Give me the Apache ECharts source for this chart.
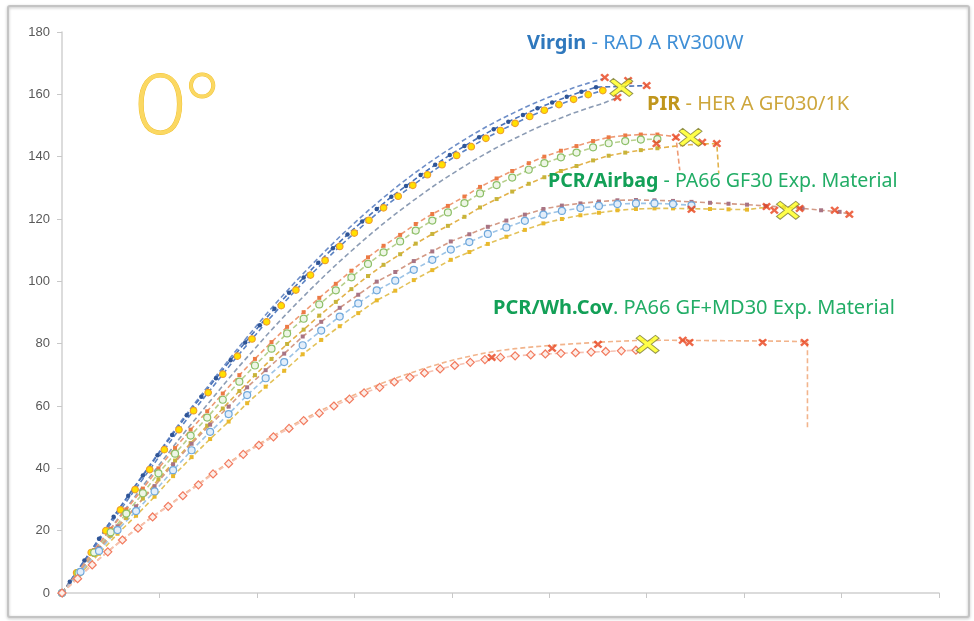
<!DOCTYPE html>
<html>
<head>
<meta charset="utf-8">
<title>0°</title>
<script src="https://cdn.jsdelivr.net/npm/echarts@6/dist/echarts.min.js"></script>
<style>
    html, body { margin: 0; padding: 0; background: #fff; }
    #chart { width: 974px; height: 621px; }
</style>
</head>
<body>
<div id="chart"></div>
<script>
// Virgin - RAD A RV300W
var xVirgin = [0,0.15,0.3,0.45,0.6,0.75,0.9,1.05,1.2,1.35,1.5,1.65,1.8,1.95,2.1,2.25,2.4,2.55,2.7,2.85,3,3.15,3.3,3.45,3.6,3.75,3.9,4.05,4.2,4.35,4.5,4.65,4.8,4.95,5.1,5.25,5.4,5.55];
var xVirginB = [0,0.08,0.23,0.38,0.53,0.68,0.83,0.98,1.13,1.28,1.43,1.58,1.73,1.88,2.03,2.18,2.33,2.48,2.63,2.78,2.93,3.08,3.23,3.38,3.53,3.68,3.83,3.98,4.13,4.28,4.43,4.58,4.73,4.88,5.03,5.18,5.33,5.48];
var virginTop = [0,6.8,13.6,20.8,27.7,34.4,41,47.6,54.2,60.4,66.4,72.4,78.3,84,89.6,94.9,100,104.9,109.7,114.3,118.7,122.9,126.9,130.7,134.3,137.7,140.9,143.9,146.8,149.5,152,154.3,156.5,158.5,160.4,162.1,163.6,165];
var virginDots = [0,3.6,10.4,17.4,24.5,31.2,37.7,44.2,50.7,57,63,68.9,74.7,80.4,85.9,91.2,96.3,101.2,106,110.6,115,119.2,123.2,127.1,130.6,134.1,137.4,140.5,143.4,146.2,148.8,151.2,153.4,155.5,157.4,159.2,160.8,162.3];
var virginYellow = [0,6.5,13,20,26.7,33.2,39.6,46,52.4,58.5,64.3,70.2,76,81.5,87,92.2,97.2,102,106.7,111.2,115.5,119.6,123.6,127.3,130.8,134.2,137.4,140.4,143.2,145.9,148.4,150.7,152.9,154.9,156.7,158.4,159.9,161.2];
var virginLow = [0,6,12,18.6,24.9,31,37.2,43.2,49.3,55.1,60.8,66.5,72.1,77.4,82.7,87.8,92.7,97.4,102,106.4,110.6,114.7,118.6,122.3,125.8,129.2,132.4,135.4,138.3,141,143.6,145.9,148.2,150.3,152.2,154,155.6,157.1];
var virginDotsTail = [[6.0,162.8]];
var virginLowTail = [[5.7,159]];

// PIR - HER A GF030/1K
var xPir = [0,0.17,0.33,0.5,0.66,0.83,0.99,1.16,1.32,1.49,1.65,1.82,1.98,2.15,2.31,2.48,2.64,2.81,2.97,3.14,3.3,3.47,3.63,3.8,3.96,4.13,4.29,4.46,4.62,4.79,4.95,5.12,5.28,5.45,5.61,5.78,5.94,6.11];
var pirGreen = [0,6.5,13,19.5,25.5,32,38.4,44.7,50.5,56.3,62,67.8,73,78.4,83.3,88,92.6,97.1,101.3,105.6,109.3,112.8,116.3,119.5,122.1,125.1,128.2,130.9,133.3,135.8,137.9,139.8,141.3,143,144.3,145,145.5,145.6];
var pirOrange = [0,6.9,13.8,20.6,26.8,33.5,40,46.5,52.4,58.3,64,69.9,75.1,80.5,85.4,90.1,94.7,99.2,103.4,107.7,111.4,114.9,118.4,121.6,124.2,127.2,130.3,133,135.4,137.9,140,141.9,143.4,145,146.2,146.8,147.1,147.1];
var pirBrown = [0,6.1,12.2,18.4,24.1,30.3,36.5,42.5,48.1,53.7,59.2,64.8,69.9,75.1,79.9,84.5,89,93.4,97.5,101.7,105.3,108.7,112.1,115.2,117.8,120.7,123.7,126.4,128.8,131.3,133.4,135.4,137,138.8,140.3,141.3,142.1,142.7];
var pirOrangeTail = [[6.3,146.4],[6.34,135.6]];
var pirBrownTail = [[6.27,143.3],[6.44,143.8],[6.6,144.1],[6.72,144.2],[6.74,134.6]];

// PCR/Airbag - PA66 GF30 Exp. Material
var xAirbag = [0,0.19,0.38,0.57,0.76,0.95,1.14,1.33,1.52,1.71,1.9,2.09,2.28,2.47,2.66,2.85,3.04,3.23,3.42,3.61,3.8,3.99,4.18,4.37,4.56,4.75,4.94,5.13,5.32,5.51,5.7,5.89,6.08,6.27,6.46,6.65,6.84,7.03,7.22,7.41,7.6,7.79,7.98];
var airbagBlue = [0,6.8,13.5,20.2,26.3,32.6,39.4,45.8,51.7,57.4,63.5,68.9,74.1,79.5,84.2,88.7,92.9,97.1,100.2,103.7,106.9,110.2,112.6,115.2,117.3,119.4,121.4,122.6,123.5,124.2,124.8,125,125,124.8,124.4];
var airbagRed = [0,7.3,14.4,21.4,27.8,34.3,41.3,47.9,54,59.8,66,71.5,76.8,82.3,87,91.5,95.7,99.9,103,106.5,109.6,112.8,115.1,117.5,119.5,121.4,123.2,124.3,125,125.6,126,126.1,126,125.8,125.5,125.2,124.9,124.6,124.2,123.8,123.4,122.8,122.3];
var airbagYellow = [0,6.3,12.6,19,24.8,30.9,37.5,43.6,49.4,55,60.9,66.2,71.3,76.6,81.2,85.6,89.8,93.9,97,100.4,103.6,106.9,109.4,112,114.3,116.5,118.6,120,121.2,122,122.8,123.2,123.4,123.4,123.3,123.2,123.1,123];
var airbagRedTail = [[8.08,121.5]];
var airbagYellowTail = [[7.23,123.8]];

// PCR/Wh.Cov. PA66 GF+MD30 Exp. Material
var xWhcov = [0,0.16,0.31,0.47,0.62,0.78,0.93,1.09,1.24,1.4,1.55,1.71,1.86,2.02,2.17,2.33,2.48,2.64,2.79,2.95,3.1,3.26,3.41,3.57,3.72,3.88,4.03,4.19,4.34,4.5,4.65,4.81,4.96,5.12,5.27,5.43,5.58,5.74,5.89];
var whcovDiamond = [0,4.6,9,13.2,17,20.8,24.4,27.8,31.2,34.7,38.2,41.5,44.5,47.4,50.1,52.8,55.3,57.7,60,62.2,64.2,66,67.7,69.2,70.6,71.9,73,74,74.9,75.6,76.1,76.4,76.7,76.9,77.1,77.3,77.5,77.7,77.9];
var whcovTan = [0,4.7,9.1,13.3,17.2,21,24.6,28,31.5,35,38.5,41.8,44.8,47.8,50.5,53.3,55.8,58.3,60.6,62.9,65,67,68.8,70.5,72.1,73.6,74.9,76,77,77.8,78.4,78.9,79.3,79.7,80,80.3,80.6,80.8,81];
var whcovTanTail = [[6.2,81.1],[6.6,81],[7.0,80.9],[7.4,80.8],[7.65,80.6],[7.65,52.9]];

// 断裂点 (red x) and mean (big yellow X)
var failX = [5.57,5.81,5.70,6.0, 6.10,6.30,6.57,6.72, 6.46,7.23,7.31,7.57,7.93,8.08, 4.41,5.03,5.50,6.37,6.44,7.19,7.62];
var failY = [165.4,164.4,159,162.8, 144.2,146.2,144.6,144.2, 123.1,124,122.8,123.4,122.8,121.5, 75.6,78.5,79.8,81.1,80.4,80.4,80.4];
var meanX = [5.74,6.45,7.45,6.01];
var meanY = [162.2,146.2,122.8,79.8];

var yTicks = [0,20,40,60,80,100,120,140,160,180];

var crossPath = 'path://M2,0 L5,3 L8,0 L10,2 L7,5 L10,8 L8,10 L5,7 L2,10 L0,8 L3,5 L0,2 Z';
var bigCrossPath = 'path://M1.6,0 L5,3.4 L8.4,0 L10,1.6 L6.6,5 L10,8.4 L8.4,10 L5,6.6 L1.6,10 L0,8.4 L3.4,5 L0,1.6 Z';

function pairs(xs, ys, tail) {
    var d = [];
    for (var i = 0; i < ys.length; i++) {
        d.push([xs[i], ys[i]]);
    }
    if (tail) {
        for (var j = 0; j < tail.length; j++) {
            d.push({value: tail[j], symbol: 'none'});
        }
    }
    return d;
}

function curve(name, data, lineColor, symbol, size, fill, border) {
    return {
        name: name,
        type: 'line',
        data: data,
        z: 2,
        silent: true,
        showSymbol: symbol !== 'none',
        symbol: symbol,
        symbolSize: size,
        lineStyle: {color: lineColor, width: 1.6, type: [5, 3]},
        itemStyle: {color: fill, borderColor: border, borderWidth: border ? 1.2 : 0},
        emphasis: {disabled: true}
    };
}

var chart = echarts.init(document.getElementById('chart'));

var series = [
    curve('virginTop', pairs(xVirgin, virginTop), '#6f8fc8', 'none'),
    curve('virginLow', pairs(xVirgin, virginLow, virginLowTail), '#8c9cb4', 'none'),
    curve('virginDots', pairs(xVirginB, virginDots, virginDotsTail), '#4a72b8', 'circle', 4.5, '#2f5597'),
    curve('virginYellow', pairs(xVirgin, virginYellow), '#5b82c2', 'circle', 6.5, '#ffe100', '#f0a02c'),

    curve('pirBrown', pairs(xPir, pirBrown, pirBrownTail), '#e2b24a', 'rect', 4, '#c8b43a'),
    curve('pirOrange', pairs(xPir, pirOrange, pirOrangeTail), '#ee9a74', 'rect', 4, '#ec7a45'),
    curve('pirGreen', pairs(xPir, pirGreen), '#b8cf8c', 'circle', 7, '#eef6e6', '#8cbf68'),

    curve('airbagYellow', pairs(xAirbag, airbagYellow, airbagYellowTail), '#e3c25a', 'rect', 4, '#e9b92c'),
    curve('airbagRed', pairs(xAirbag, airbagRed, airbagRedTail), '#d39a86', 'rect', 4, '#a87484'),
    curve('airbagBlue', pairs(xAirbag, airbagBlue), '#9cc3e6', 'circle', 7, '#e3eefa', '#6fa8dc'),

    curve('whcovTan', pairs(xWhcov, whcovTan, whcovTanTail), '#f2b48c', 'none'),
    curve('whcovDiamond', pairs(xWhcov, whcovDiamond), '#f6c2b2', 'diamond', 8, '#fdeee8', '#f27a5e'),

    {
        name: 'fail',
        type: 'scatter',
        z: 4,
        silent: true,
        symbol: crossPath,
        symbolSize: [9, 8],
        itemStyle: {color: '#e8421c'},
        data: failX.map(function (x, i) { return [x, failY[i]]; })
    },
    {
        name: 'mean',
        type: 'scatter',
        z: 5,
        silent: true,
        symbol: bigCrossPath,
        symbolSize: [23, 18],
        itemStyle: {color: '#ffff1a', borderColor: '#7a7a3a', borderWidth: 1},
        data: meanX.map(function (x, i) { return [x, meanY[i]]; })
    }
];

function label(text, left, top, fs) {
    var lh = 24, ff = 'Noto Sans';
    return {
        text: text,
        left: left,
        top: top,
        padding: 0,
        textStyle: {
            fontFamily: ff,
            fontSize: fs,
            fontWeight: 'normal',
            lineHeight: lh,
            rich: {
                vb: {fontFamily: ff, fontSize: fs, fontWeight: 'bold', color: '#2f78bd', lineHeight: lh},
                v: {fontFamily: ff, fontSize: fs, fontWeight: 'normal', color: '#3f8fd6', lineHeight: lh},
                pb: {fontFamily: ff, fontSize: fs, fontWeight: 'bold', color: '#c0961c', lineHeight: lh},
                p: {fontFamily: ff, fontSize: fs, fontWeight: 'normal', color: '#cda63c', lineHeight: lh},
                gb: {fontFamily: ff, fontSize: fs, fontWeight: 'bold', color: '#13a057', lineHeight: lh},
                g: {fontFamily: ff, fontSize: fs, fontWeight: 'normal', color: '#22ad66', lineHeight: lh}
            }
        }
    };
}

var option = {
    backgroundColor: '#ffffff',
    animation: false,
    title: [
        {
            text: '0°',
            left: 136,
            top: 65,
            padding: 0,
            textStyle: {
                fontFamily: 'Lato',
                fontWeight: 300,
                fontSize: 84,
                lineHeight: 84,
                color: '#fbd862',
                textBorderColor: '#f1c232',
                textBorderWidth: 1
            }
        },
        label('{vb|Virgin}{v| - RAD A RV300W}', 527, 31, 20),
        label('{pb|PIR}{p| - HER A GF030/1K}', 647, 92, 20),
        label('{gb|PCR/Airbag}{g| - PA66 GF30 Exp. Material}', 548, 169, 19.6),
        label('{gb|PCR/Wh.Cov}{g|. PA66 GF+MD30 Exp. Material}', 493, 296, 20)
    ],
    graphic: [
        {
            type: 'rect',
            z: -10,
            silent: true,
            shape: {x: 8, y: 6, width: 961, height: 611, r: 2},
            style: {fill: 'none', stroke: '#c4c4c4', lineWidth: 2, shadowBlur: 3, shadowColor: 'rgba(0,0,0,0.25)', shadowOffsetY: 1}
        }
    ],
    grid: {left: 62, right: 35, top: 32, bottom: 28, containLabel: false},
    xAxis: {
        type: 'value',
        min: 0,
        max: 9,
        interval: 1,
        axisLine: {show: true, lineStyle: {color: '#d0d0d0', width: 1.5}},
        axisTick: {show: true, length: 5, lineStyle: {color: '#c8c8c8'}},
        axisLabel: {show: false},
        splitLine: {show: false}
    },
    yAxis: {
        type: 'value',
        min: 0,
        max: 180,
        interval: 20,
        axisLine: {show: true, lineStyle: {color: '#d0d0d0', width: 1.5}},
        axisTick: {show: true, length: 5, lineStyle: {color: '#c8c8c8'}},
        axisLabel: {
            color: '#595959',
            fontFamily: 'Liberation Sans',
            fontSize: 13,
            margin: 12,
            formatter: function (v) { return yTicks.indexOf(v) >= 0 ? String(v) : ''; }
        },
        splitLine: {show: false}
    },
    series: series
};

chart.setOption(option);
</script>
</body>
</html>
